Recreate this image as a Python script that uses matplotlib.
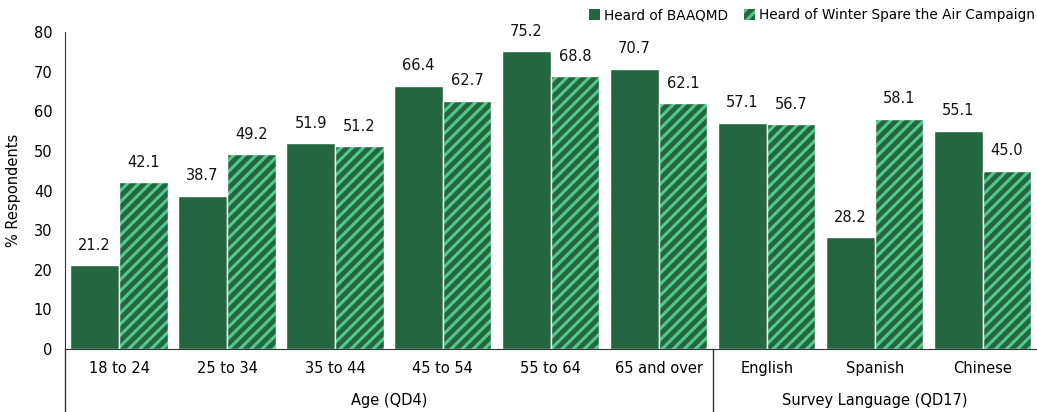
import numpy as np
import matplotlib.pyplot as plt
from matplotlib.patches import Patch
from matplotlib.transforms import blended_transform_factory

plt.rcParams['font.family'] = ['DejaVu Sans']
plt.rcParams['hatch.linewidth'] = 2.2

categories = ['18 to 24', '25 to 34', '35 to 44', '45 to 54', '55 to 64', '65 and over',
              'English', 'Spanish', 'Chinese']
heard_baaqmd = [21.2, 38.7, 51.9, 66.4, 75.2, 70.7, 57.1, 28.2, 55.1]
heard_winter = [42.1, 49.2, 51.2, 62.7, 68.8, 62.1, 56.7, 58.1, 45.0]
groups = [('Age (QD4)', 0, 5), ('Survey Language (QD17)', 6, 8)]
series_names = ['Heard of BAAQMD', 'Heard of Winter Spare the Air Campaign']

dark = '#236641'
light = '#52c98a'

fig = plt.figure(figsize=(10.37, 4.12), dpi=100)
ax = fig.add_axes([0.0627, 0.153, 0.937, 0.769])

x = np.arange(len(categories))
w = 0.45

ax.bar(x - w / 2, heard_baaqmd, w, color=dark, edgecolor='white', linewidth=1)
# hatched bars: dark base, light stripes, white outline
ax.bar(x + w / 2, heard_winter, w, color=dark, linewidth=0)
ax.bar(x + w / 2, heard_winter, w, color='none', edgecolor=light, hatch='///', linewidth=0)
ax.bar(x + w / 2, heard_winter, w, color='none', edgecolor='white', linewidth=1)

for xi, v in zip(x - w / 2, heard_baaqmd):
    ax.annotate(f'{v:.1f}', (xi, v), xytext=(0, 9), textcoords='offset points',
                ha='center', va='bottom', fontsize=10.5, color='#111111')
for xi, v in zip(x + w / 2, heard_winter):
    ax.annotate(f'{v:.1f}', (xi, v), xytext=(0, 9), textcoords='offset points',
                ha='center', va='bottom', fontsize=10.5, color='#111111')

ax.set_xlim(-0.5, len(categories) - 0.5)
ax.set_ylim(0, 80)
ax.set_yticks(range(0, 81, 10))
ax.tick_params(axis='y', length=0, pad=9, labelsize=10.5)
ax.set_xticks([])
ax.set_ylabel('% Respondents', fontsize=10.5, labelpad=9)

for s in ['top', 'right']:
    ax.spines[s].set_visible(False)
ax.spines['left'].set_color('#333333')
ax.spines['bottom'].set_color('#333333')

tr = blended_transform_factory(ax.transData, ax.transAxes)
for xi, c in zip(x, categories):
    ax.text(xi, -0.063, c, transform=tr, ha='center', va='center', fontsize=10.5)
for name, a, b in groups:
    ax.text((a + b) / 2, -0.164, name, transform=tr, ha='center', va='center', fontsize=10.5)

# group separators extending below the axis
for xs in [-0.5, 5.5]:
    ax.plot([xs, xs], [0, -0.21], transform=tr, color='#333333', lw=1, clip_on=False)

handles = [Patch(facecolor=dark, edgecolor='none'),
           Patch(facecolor=dark, edgecolor=light, hatch='///', linewidth=0)]
fig.legend(handles, series_names, loc='upper right', bbox_to_anchor=(1.01, 1.01), ncol=2,
           frameon=False, fontsize=9.8, handlelength=0.8, handleheight=0.8,
           handletextpad=0.3, columnspacing=1.2)

fig.savefig('out.png', dpi=100)
